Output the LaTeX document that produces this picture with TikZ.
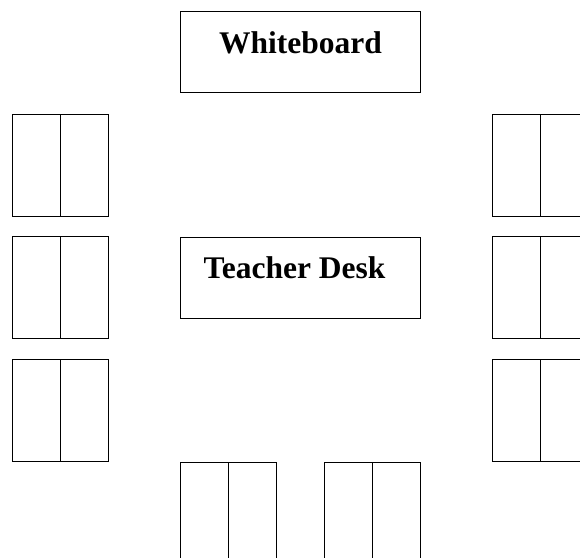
\documentclass[tikz,border=0pt]{standalone}
\usepackage{fontspec}
\setmainfont{Liberation Serif}
\usepackage{tikz}
\tikzset{
  board/.style={draw,line width=1pt,minimum width=240pt,minimum height=81pt,inner sep=0pt,anchor=north west},
  seat/.style={draw,line width=1pt,minimum width=48pt,minimum height=102pt,inner sep=0pt,anchor=north west},
  label/.style={font=\bfseries\fontsize{31.5}{36}\selectfont,anchor=base,inner sep=0pt}
}

\begin{document}
\begin{tikzpicture}[x=1pt,y=-1pt]
  \useasboundingbox (0,0) rectangle (580,557);
  \clip (0,0) rectangle (580,557);
  % front of the room
  \node[board] (whiteboard) at (180,11) {};
  \node[label] (wblabel) at (300.5,53) {Whiteboard};
  \node[board] (teacher) at (180,237) {};
  \node[label] (tdlabel) at (294.5,278) {Teacher Desk};
  % side rows
  \foreach \y [count=\i] in {114,236,359} {
    \node[seat] (left\i a) at (12,\y) {};
    \node[seat] (left\i b) at (60,\y) {};
    \node[seat] (right\i a) at (492,\y) {};
    \node[seat] (right\i b) at (540,\y) {};
  }
  % back row
  \foreach \x [count=\i] in {180,324} {
    \node[seat] (back\i a) at (\x,462) {};
    \node[seat] (back\i b) at (\x+48,462) {};
  }
\end{tikzpicture}
\end{document}
